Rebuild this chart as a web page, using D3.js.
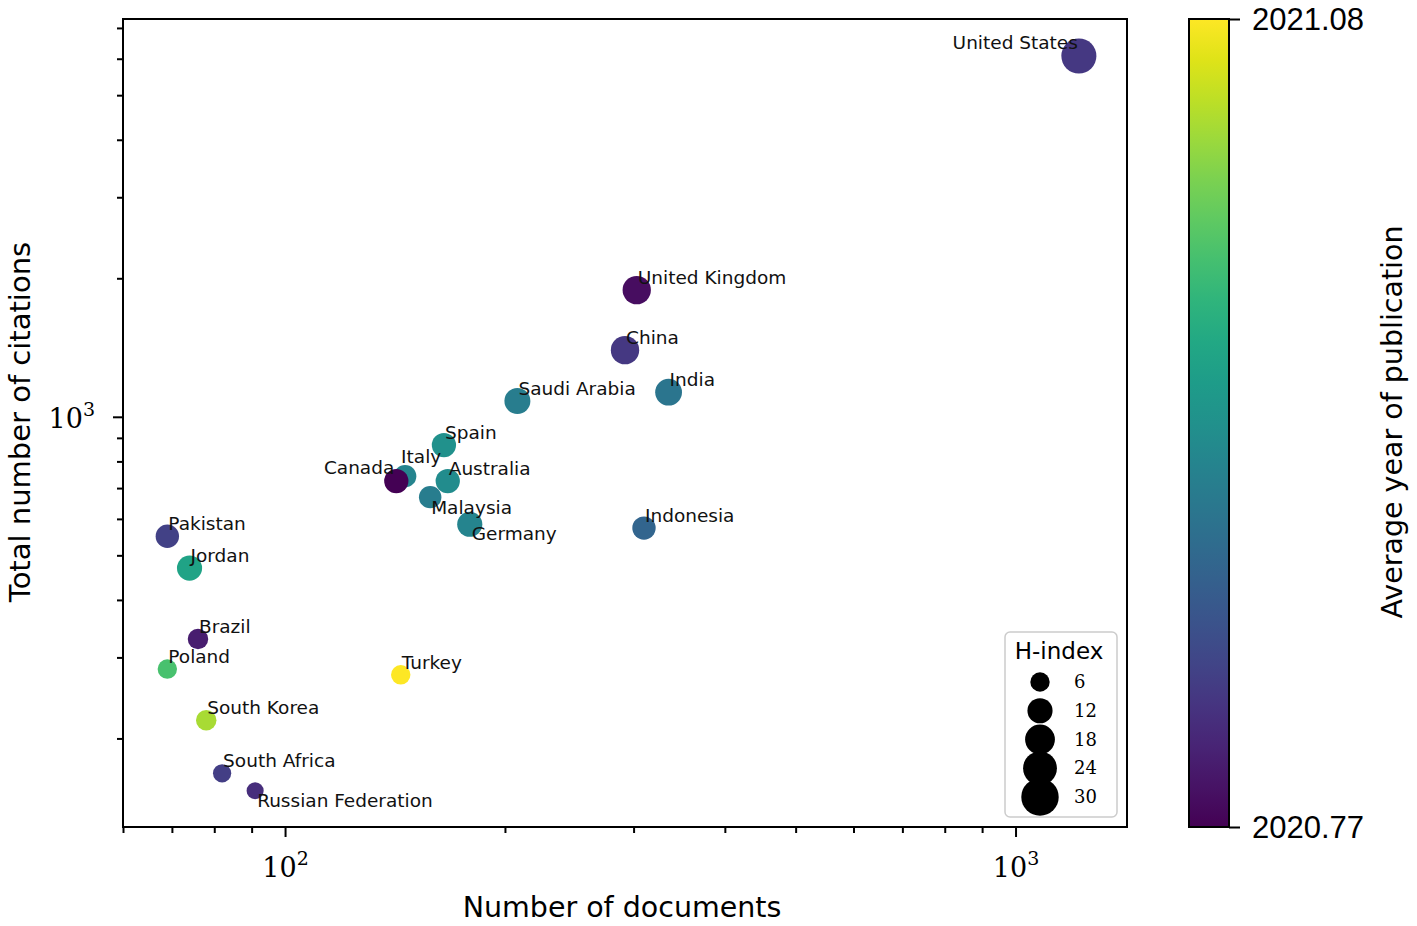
<!DOCTYPE html>
<html>
<head>
<meta charset="utf-8">
<script src="https://cdn.jsdelivr.net/npm/d3@7"></script>
<style>
  body { margin: 0; background: #fff; }
  svg { display: block; }
</style>
</head>
<body>
<svg id="chart" width="1417" height="926"></svg>
<script>
// Data
const countries = ["United States", "United Kingdom", "China", "India", "Saudi Arabia",
  "Spain", "Italy", "Canada", "Australia", "Malaysia", "Germany", "Indonesia",
  "Pakistan", "Jordan", "Brazil", "Poland", "Turkey", "South Korea", "South Africa",
  "Russian Federation"];
const documents = [1221, 303, 292, 335, 208, 165, 146, 142, 167, 158, 179, 310,
  69, 74, 76, 69, 144, 78, 82, 91];
const citations = [6083, 1885, 1396, 1131, 1082, 868, 743, 725, 725, 669, 584, 573,
  550, 469, 329, 283, 275, 219, 168, 154];
const hIndex = [26, 16, 16, 14, 13, 11, 9, 11, 11, 9, 12, 10,
  10, 12, 7, 6, 6, 7, 5, 4];
const avgYear = [2020.82, 2020.78, 2020.82, 2020.89, 2020.90, 2020.925, 2020.91, 2020.77,
  2020.92, 2020.90, 2020.91, 2020.87, 2020.83, 2020.95, 2020.795, 2020.99, 2021.08,
  2021.04, 2020.826, 2020.81];
const legendH = [6, 12, 18, 24, 30];
const yearRange = [2020.77, 2021.08];

// label placement (adjusted labels)
const labelPlace = {
  "United States": { anchor: "end", dx: -1, dy: -7 },
  "Canada": { anchor: "end", dx: -2, dy: -7 },
  "Italy": { anchor: "start", dx: -4, dy: -13 },
  "Malaysia": { anchor: "start", dx: 1, dy: 17 },
  "Germany": { anchor: "start", dx: 2, dy: 16 },
  "Russian Federation": { anchor: "start", dx: 2, dy: 16 }
};

const svg = d3.select("#chart");
const plot = { left: 123, right: 1127, top: 19, bottom: 827 };
const textFont = "'DejaVu Sans', sans-serif";
const serifFont = "'DejaVu Serif', 'Liberation Serif', serif";

const x = d3.scaleLog().domain([60, 1421]).range([plot.left, plot.right]);
const y = d3.scaleLog().domain([128.4, 7320]).range([plot.bottom, plot.top]);
const color = d3.scaleSequential(d3.interpolateViridis).domain(yearRange);
const area = d3.scaleLinear().domain([6, 30]).range([94, 350]);
const radius = h => Math.sqrt(area(h));

const data = countries.map((c, i) => ({
  name: c, docs: documents[i], cites: citations[i], h: hIndex[i], year: avgYear[i]
}));

// axes
const xMinor = [60, 70, 80, 90, 200, 300, 400, 500, 600, 700, 800, 900];
const yMinor = [200, 300, 400, 500, 600, 700, 800, 900, 2000, 3000, 4000, 5000, 6000, 7000];

function styleAxis(g) {
  g.select(".domain").remove();
  g.selectAll("line").attr("stroke", "#000").attr("stroke-width", 2);
}

svg.append("g")
  .attr("transform", `translate(0,${plot.bottom})`)
  .call(d3.axisBottom(x).tickValues(xMinor).tickSize(6).tickFormat(""))
  .call(styleAxis);
svg.append("g")
  .attr("transform", `translate(0,${plot.bottom})`)
  .call(d3.axisBottom(x).tickValues([100, 1000]).tickSize(10).tickPadding(12).tickFormat(""))
  .call(styleAxis)
  .selectAll(".tick").append("text")
  .attr("y", 50)
  .attr("text-anchor", "middle")
  .attr("fill", "#000")
  .style("font-family", serifFont)
  .style("font-size", "27px")
  .each(function (d) {
    const t = d3.select(this);
    t.append("tspan").text("10");
    t.append("tspan").attr("dy", -12).style("font-size", "19px").text(Math.round(Math.log10(d)));
  });

svg.append("g")
  .attr("transform", `translate(${plot.left},0)`)
  .call(d3.axisLeft(y).tickValues(yMinor).tickSize(6).tickFormat(""))
  .call(styleAxis);
svg.append("g")
  .attr("transform", `translate(${plot.left},0)`)
  .call(d3.axisLeft(y).tickValues([1000]).tickSize(10).tickFormat(""))
  .call(styleAxis)
  .selectAll(".tick").append("text")
  .attr("x", -28)
  .attr("y", 11)
  .attr("text-anchor", "end")
  .attr("fill", "#000")
  .style("font-family", serifFont)
  .style("font-size", "27px")
  .each(function (d) {
    const t = d3.select(this);
    t.append("tspan").text("10");
    t.append("tspan").attr("dy", -12).style("font-size", "19px").text(Math.round(Math.log10(d)));
  });

// frame
svg.append("rect")
  .attr("x", plot.left).attr("y", plot.top)
  .attr("width", plot.right - plot.left).attr("height", plot.bottom - plot.top)
  .attr("fill", "none").attr("stroke", "#000").attr("stroke-width", 2);

// axis titles
svg.append("text")
  .attr("x", 622).attr("y", 917)
  .attr("text-anchor", "middle")
  .style("font-family", textFont).style("font-size", "28.5px")
  .text("Number of documents");
svg.append("text")
  .attr("transform", `translate(30,422) rotate(-90)`)
  .attr("text-anchor", "middle")
  .style("font-family", textFont).style("font-size", "29px")
  .text("Total number of citations");

// points
svg.append("g").selectAll("circle")
  .data(data)
  .join("circle")
  .attr("cx", d => x(d.docs))
  .attr("cy", d => y(d.cites))
  .attr("r", d => radius(d.h))
  .attr("fill", d => color(d.year));

svg.append("g").selectAll("text")
  .data(data)
  .join("text")
  .attr("x", d => x(d.docs) + (labelPlace[d.name] ? labelPlace[d.name].dx : 1))
  .attr("y", d => y(d.cites) + (labelPlace[d.name] ? labelPlace[d.name].dy : -6))
  .attr("text-anchor", d => labelPlace[d.name] ? labelPlace[d.name].anchor : "start")
  .style("font-family", textFont).style("font-size", "18.5px")
  .attr("fill", "#111")
  .text(d => d.name);

// size legend
const lg = svg.append("g");
lg.append("rect")
  .attr("x", 1005).attr("y", 632).attr("width", 112).attr("height", 185)
  .attr("rx", 5).attr("fill", "#fff").attr("fill-opacity", 0.85)
  .attr("stroke", "#ccc").attr("stroke-width", 1.5);
lg.append("text")
  .attr("x", 1059).attr("y", 659).attr("text-anchor", "middle")
  .style("font-family", textFont).style("font-size", "23px")
  .text("H-index");
const legY = d3.scalePoint().domain(legendH).range([682, 797]);
lg.selectAll("circle").data(legendH).join("circle")
  .attr("cx", 1040).attr("cy", d => legY(d)).attr("r", d => radius(d)).attr("fill", "#000");
lg.selectAll(".leg-lab").data(legendH).join("text")
  .attr("class", "leg-lab")
  .attr("x", 1074).attr("y", d => legY(d) + 6)
  .style("font-family", serifFont).style("font-size", "18px")
  .text(d => d);

// colorbar
const cb = { left: 1189, right: 1229 };
const cbScale = d3.scaleLinear().domain(yearRange).range([plot.bottom, plot.top]);
const grad = svg.append("defs").append("linearGradient")
  .attr("id", "viridis").attr("x1", 0).attr("y1", 1).attr("x2", 0).attr("y2", 0);
d3.range(0, 1.0001, 0.05).forEach(t => {
  grad.append("stop").attr("offset", t).attr("stop-color", d3.interpolateViridis(t));
});
svg.append("rect")
  .attr("x", cb.left).attr("y", plot.top)
  .attr("width", cb.right - cb.left).attr("height", plot.bottom - plot.top)
  .attr("fill", "url(#viridis)").attr("stroke", "#000").attr("stroke-width", 2);
svg.append("g")
  .attr("transform", `translate(${cb.right},0)`)
  .call(d3.axisRight(cbScale).tickValues(yearRange).tickSize(11).tickPadding(12).tickFormat(d3.format(".2f")))
  .call(styleAxis)
  .selectAll("text")
  .attr("dy", "0.35em")
  .style("font-family", "'Liberation Sans', Arial, sans-serif")
  .style("font-size", "31px");
svg.append("text")
  .attr("transform", `translate(1402,422) rotate(-90)`)
  .attr("text-anchor", "middle")
  .style("font-family", textFont).style("font-size", "28.5px")
  .text("Average year of publication");
</script>
</body>
</html>
